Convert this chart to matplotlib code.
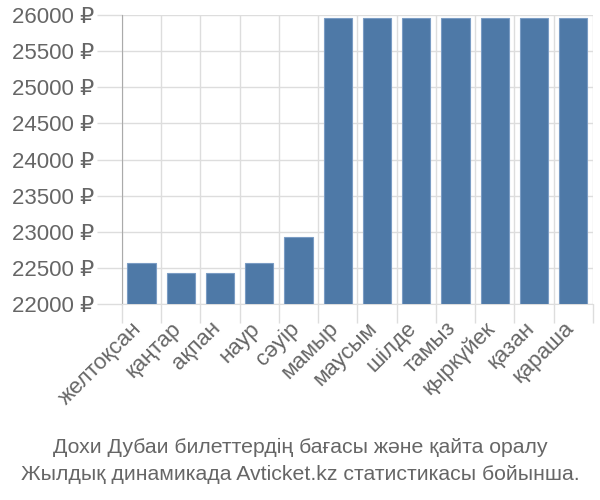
import matplotlib
matplotlib.use("Agg")
import matplotlib.pyplot as plt
import matplotlib.transforms as mtransforms
import numpy as np

plt.rcParams['font.family'] = ['Liberation Sans', 'DejaVu Sans']

months = ["желтоқсан", "қаңтар", "ақпан", "наур", "сәуір", "мамыр",
          "маусым", "шілде", "тамыз", "қыркүйек", "қазан", "қараша"]
prices = [22563, 22433, 22433, 22563, 22923, 25954,
          25954, 25954, 25954, 25954, 25954, 25954]
yticks = [22000, 22500, 23000, 23500, 24000, 24500, 25000, 25500, 26000]
title_lines = ["Дохи Дубаи билеттердің бағасы және қайта оралу",
               "Жылдық динамикада Avticket.kz статистикасы бойынша."]

txt = "#666666"
grid = "#dddddd"

fig = plt.figure(figsize=(6, 5), dpi=100)
ax = fig.add_axes([0.203, 0.392, 0.785, 0.578])

x = np.arange(len(months))
ax.bar(x, [p - 22000 for p in prices], bottom=22000, width=0.72,
       color="#4e79a7", edgecolor="#7a9cc4", linewidth=0.8, zorder=3)

ax.set_xlim(-0.5, len(months) - 0.5)
ax.set_ylim(22000, 26000)
ax.set_yticks(yticks)
ax.set_yticklabels([f"{v} ₽" for v in yticks], fontsize=16, color=txt)

# category boundaries carry the vertical grid and tick marks
edges = np.arange(len(months) + 1) - 0.5
ax.set_xticks(edges, minor=True)
ax.set_xticks(x)
ax.set_xticklabels(months, rotation=45, ha="right", va="top",
                   rotation_mode="anchor", fontsize=16, color=txt)
ax.tick_params(axis="x", which="major", length=0, pad=10)
ax.tick_params(axis="x", which="minor", length=14, color=grid, width=1)
ax.tick_params(axis="y", length=18, color=grid, width=1, pad=2)

# nudge rotated month labels a little to the left
shift = mtransforms.ScaledTranslation(-10 / 100, 0, fig.dpi_scale_trans)
for lab in ax.get_xticklabels():
    lab.set_transform(lab.get_transform() + shift)

ax.grid(True, axis="y", color=grid, linewidth=1, zorder=0)
ax.grid(True, axis="x", which="minor", color=grid, linewidth=1, zorder=0)

for s in ["top", "right"]:
    ax.spines[s].set_visible(False)
ax.spines["left"].set_color("#aaaaaa")
ax.spines["bottom"].set_color(grid)

fig.text(0.5, 0.106, title_lines[0], ha="center", va="center", fontsize=15.3, color=txt)
fig.text(0.5, 0.050, title_lines[1], ha="center", va="center", fontsize=15.3, color=txt)

fig.savefig("out.png", dpi=100)
